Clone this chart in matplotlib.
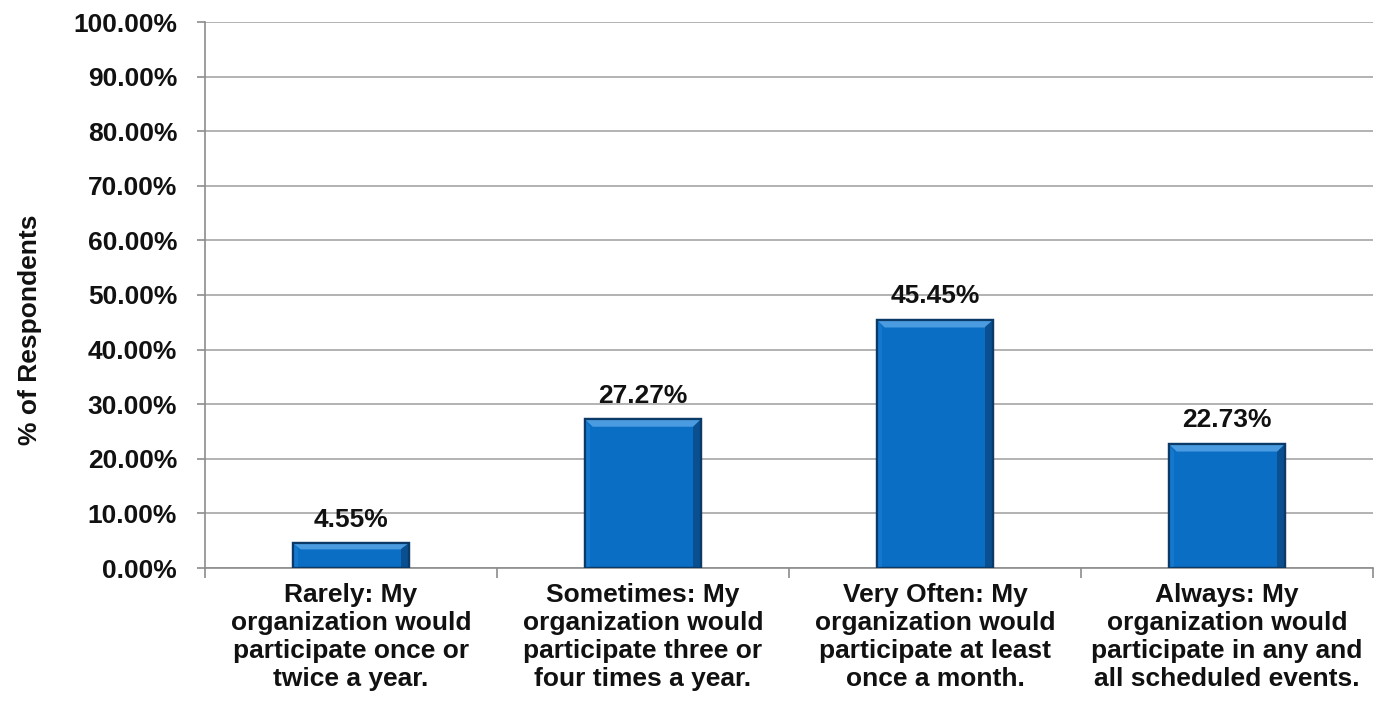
import matplotlib
matplotlib.use("Agg")
import matplotlib.pyplot as plt
from matplotlib.patches import Polygon
from matplotlib.ticker import MultipleLocator, FuncFormatter

categories = [
    "Rarely: My\norganization would\nparticipate once or\ntwice a year.",
    "Sometimes: My\norganization would\nparticipate three or\nfour times a year.",
    "Very Often: My\norganization would\nparticipate at least\nonce a month.",
    "Always: My\norganization would\nparticipate in any and\nall scheduled events.",
]
values = [4.55, 27.27, 45.45, 22.73]
y_label = "% of Respondents"

plt.rcParams['font.family'] = ['Liberation Sans', 'DejaVu Sans']
plt.rcParams['font.weight'] = 'bold'

fig = plt.figure(figsize=(13.74, 7.02), dpi=100)
ax = fig.add_axes([205/1374, 1 - 568/702, 1168/1374, (568 - 22)/702])

x = list(range(len(values)))
bw = 0.40
bars = ax.bar(x, values, width=bw, color='#0B6EC5', edgecolor='#0A3A68',
              linewidth=1.6, zorder=3)

# bevel highlights derived from each bar geometry
for b in bars:
    x0 = b.get_x(); w = b.get_width(); h = b.get_height()
    dx = w * 0.07
    dy = min(1.4, h * 0.25)
    top = Polygon([[x0, h], [x0 + w, h], [x0 + w - dx, h - dy], [x0 + dx, h - dy]],
                  closed=True, facecolor='#4A9BE0', edgecolor='none', zorder=4)
    right = Polygon([[x0 + w, h], [x0 + w, 0], [x0 + w - dx, 0], [x0 + w - dx, h - dy]],
                    closed=True, facecolor='#0A4F8F', edgecolor='none', zorder=4)
    left = Polygon([[x0, h], [x0, 0], [x0 + dx * 0.6, 0], [x0 + dx * 0.6, h - dy]],
                   closed=True, facecolor='#1478CC', edgecolor='none', zorder=4)
    ax.add_patch(top); ax.add_patch(right); ax.add_patch(left)
    ax.add_patch(plt.Rectangle((x0, 0), w, h, fill=False, edgecolor='#0A3A68',
                               linewidth=1.6, zorder=5))
    ax.text(x0 + w / 2, h + 2.1, f"{h:.2f}%", ha='center', va='bottom',
            fontsize=19, fontweight='bold', color='#111111', zorder=6)

ax.set_xlim(-0.5, len(values) - 0.5)
ax.set_ylim(0, 100)
ax.yaxis.set_major_locator(MultipleLocator(10))
ax.yaxis.set_major_formatter(FuncFormatter(lambda v, p: f"{v:.2f}%"))
ax.grid(axis='y', color='#A6A6A6', linewidth=1.2, zorder=0)
ax.set_axisbelow(True)

for s in ['top', 'right']:
    ax.spines[s].set_visible(False)
ax.spines['left'].set_color('#8C8C8C')
ax.spines['bottom'].set_color('#8C8C8C')
ax.spines['left'].set_linewidth(1.2)
ax.spines['bottom'].set_linewidth(1.2)

ax.tick_params(axis='y', which='major', length=6, width=1.2, color='#8C8C8C',
               labelsize=19, pad=14, labelcolor='#111111')
ax.set_xticks([i - 0.5 for i in range(len(values) + 1)], minor=False)
ax.set_xticklabels([])
ax.set_xticks(x, minor=True)
ax.set_xticklabels(categories, minor=True, fontsize=19, fontweight='bold',
                   linespacing=1.2, color='#111111')
ax.tick_params(axis='x', which='major', length=7, width=1.2, color='#8C8C8C')
ax.tick_params(axis='x', which='minor', length=0, pad=11)
for lab in ax.get_yticklabels():
    lab.set_fontweight('bold')

fig.text(30/1374, 1 - 330/702, y_label, rotation=90, ha='center', va='center',
         fontsize=19, fontweight='bold', color='#111111')

fig.savefig("out.png", dpi=100, facecolor='white')
